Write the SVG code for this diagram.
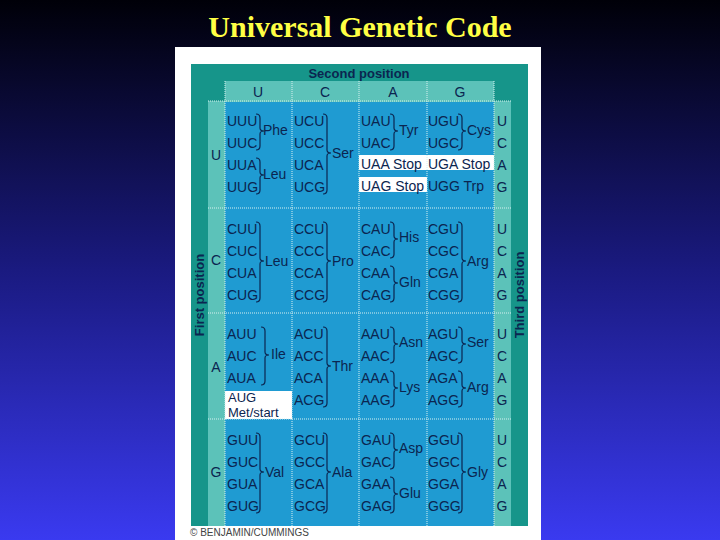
<svg xmlns="http://www.w3.org/2000/svg" width="720" height="540" viewBox="0 0 720 540">
<defs>
<linearGradient id="bg" x1="0" y1="0" x2="0" y2="1"><stop offset="0" stop-color="#000008"/><stop offset="0.5" stop-color="#1a1a80"/><stop offset="1" stop-color="#3a3af0"/></linearGradient>
<style>
.c{font-family:"Liberation Sans",Arial,sans-serif;font-size:14px;fill:#0b2550}
.m{font-family:"Liberation Sans",Arial,sans-serif;font-size:13px;fill:#0b2550}
.h{font-family:"Liberation Sans",Arial,sans-serif;font-size:14px;fill:#0b2550;text-anchor:middle}
.b{font-family:"Liberation Sans",Arial,sans-serif;font-size:13px;font-weight:bold;fill:#0b2550;text-anchor:middle}
.br{fill:none;stroke:#0b2550;stroke-width:1.2}
.cell{fill:#1f9bd2}
.lt{fill:#5cc2b9}
.g{stroke:#d8f0f0;stroke-width:1;stroke-dasharray:1 1}
.w{fill:#ffffff}
</style>
</defs>
<rect width="720" height="540" fill="url(#bg)"/>
<text x="360" y="37" text-anchor="middle" font-family="Liberation Serif,serif" font-weight="bold" font-size="30" fill="#ffff44">Universal Genetic Code</text>
<rect x="175" y="47" width="366" height="493" fill="#ffffff"/>
<g id="frame">
<rect x="191" y="64" width="337" height="462" fill="#16958a"/>
<rect x="208" y="81" width="303" height="445" class="lt"/>
<rect x="225" y="102" width="269" height="424" class="cell"/>
<rect x="208" y="81" width="17" height="20" fill="#16958a"/>
<rect x="494" y="81" width="17" height="20" fill="#16958a"/>
<text x="359" y="78" class="b">Second position</text>
<text x="258" y="97" class="h">U</text><text x="325" y="97" class="h">C</text><text x="393" y="97" class="h">A</text><text x="460" y="97" class="h">G</text>
<text class="b" transform="translate(204,295) rotate(-90)">First position</text>
<text class="b" transform="translate(524,295) rotate(-90)">Third position</text>
</g>
<g id="highlights">
<rect x="359" y="155" width="135" height="15" class="w"/>
<rect x="359" y="177" width="68" height="15" class="w"/>
<rect x="225" y="391" width="67" height="28" class="w"/>
</g>
<g id="grid">
<line x1="208" y1="101" x2="511" y2="101" class="g"/>
<line x1="208" y1="208" x2="511" y2="208" class="g"/>
<line x1="208" y1="313" x2="511" y2="313" class="g"/>
<line x1="208" y1="419" x2="511" y2="419" class="g"/>
<line x1="225" y1="81" x2="225" y2="526" class="g"/>
<line x1="292" y1="81" x2="292" y2="526" class="g"/>
<line x1="359" y1="81" x2="359" y2="526" class="g"/>
<line x1="427" y1="81" x2="427" y2="526" class="g"/>
<line x1="494" y1="81" x2="494" y2="526" class="g"/>
</g>
<g id="row-labels">
<text x="216" y="160" class="h">U</text><text x="216" y="265" class="h">C</text><text x="216" y="372" class="h">A</text><text x="216" y="477" class="h">G</text>
</g>
<g id="third-labels">
<text x="502" y="126" class="h">U</text><text x="502" y="148" class="h">C</text><text x="502" y="170" class="h">A</text><text x="502" y="192" class="h">G</text>
<text x="502" y="234" class="h">U</text><text x="502" y="256" class="h">C</text><text x="502" y="278" class="h">A</text><text x="502" y="300" class="h">G</text>
<text x="502" y="339" class="h">U</text><text x="502" y="361" class="h">C</text><text x="502" y="383" class="h">A</text><text x="502" y="405" class="h">G</text>
<text x="502" y="445" class="h">U</text><text x="502" y="467" class="h">C</text><text x="502" y="489" class="h">A</text><text x="502" y="511" class="h">G</text>
</g>
<g id="UU" transform="translate(225,102)">
<text x="2" y="24" class="c">UUU</text><text x="2" y="46" class="c">UUC</text><text x="2" y="68" class="c">UUA</text><text x="2" y="90" class="c">UUG</text>
<path class="br" d="M31,12 q4,0 4,4 V26 q0,3 4,3 q-4,0 -4,3 V44 q0,4 -4,4"/><text x="38" y="33" class="c">Phe</text>
<path class="br" d="M31,56 q4,0 4,4 V70 q0,3 4,3 q-4,0 -4,3 V88 q0,4 -4,4"/><text x="38" y="77" class="c">Leu</text>
</g>
<g id="UC" transform="translate(292,102)">
<text x="2" y="24" class="c">UCU</text><text x="2" y="46" class="c">UCC</text><text x="2" y="68" class="c">UCA</text><text x="2" y="90" class="c">UCG</text>
<path class="br" d="M31,12 q4,0 4,4 V48 q0,3 4,3 q-4,0 -4,3 V88 q0,4 -4,4"/><text x="40" y="56" class="c">Ser</text>
</g>
<g id="UA" transform="translate(359,102)">
<text x="2" y="24" class="c">UAU</text><text x="2" y="46" class="c">UAC</text><text x="2" y="67" class="c">UAA Stop</text><text x="2" y="89" class="c">UAG Stop</text>
<path class="br" d="M31,12 q4,0 4,4 V26 q0,3 4,3 q-4,0 -4,3 V44 q0,4 -4,4"/><text x="40" y="33" class="c">Tyr</text>
</g>
<g id="UG" transform="translate(427,102)">
<text x="1" y="24" class="c">UGU</text><text x="1" y="46" class="c">UGC</text><text x="1" y="67" class="c">UGA Stop</text><text x="1" y="89" class="c">UGG  Trp</text>
<path class="br" d="M31,12 q4,0 4,4 V26 q0,3 4,3 q-4,0 -4,3 V44 q0,4 -4,4"/><text x="40" y="33" class="c">Cys</text>
</g>
<g id="CU" transform="translate(225,208)">
<text x="2" y="26" class="c">CUU</text><text x="2" y="48" class="c">CUC</text><text x="2" y="70" class="c">CUA</text><text x="2" y="92" class="c">CUG</text>
<path class="br" d="M31,14 q4,0 4,4 V50 q0,3 4,3 q-4,0 -4,3 V90 q0,4 -4,4"/><text x="40" y="58" class="c">Leu</text>
</g>
<g id="CC" transform="translate(292,208)">
<text x="2" y="26" class="c">CCU</text><text x="2" y="48" class="c">CCC</text><text x="2" y="70" class="c">CCA</text><text x="2" y="92" class="c">CCG</text>
<path class="br" d="M31,14 q4,0 4,4 V50 q0,3 4,3 q-4,0 -4,3 V90 q0,4 -4,4"/><text x="40" y="58" class="c">Pro</text>
</g>
<g id="CA" transform="translate(359,208)">
<text x="2" y="26" class="c">CAU</text><text x="2" y="48" class="c">CAC</text><text x="2" y="70" class="c">CAA</text><text x="2" y="92" class="c">CAG</text>
<path class="br" d="M31,14 q4,0 4,4 V28 q0,3 4,3 q-4,0 -4,3 V46 q0,4 -4,4"/><text x="40" y="34" class="c">His</text>
<path class="br" d="M31,58 q4,0 4,4 V72 q0,3 4,3 q-4,0 -4,3 V90 q0,4 -4,4"/><text x="40" y="79" class="c">Gln</text>
</g>
<g id="CG" transform="translate(427,208)">
<text x="1" y="26" class="c">CGU</text><text x="1" y="48" class="c">CGC</text><text x="1" y="70" class="c">CGA</text><text x="1" y="92" class="c">CGG</text>
<path class="br" d="M31,14 q4,0 4,4 V50 q0,3 4,3 q-4,0 -4,3 V90 q0,4 -4,4"/><text x="40" y="58" class="c">Arg</text>
</g>
<g id="AU" transform="translate(225,313)">
<text x="2" y="26" class="c">AUU</text><text x="2" y="48" class="c">AUC</text><text x="2" y="70" class="c">AUA</text>
<path class="br" d="M36,14 q4,0 4,4 V39 q0,3 4,3 q-4,0 -4,3 V68 q0,4 -4,4"/><text x="46" y="46" class="c">Ile</text>
<text x="3" y="89" class="m">AUG</text><text x="3" y="104" class="m">Met/start</text>
</g>
<g id="AC" transform="translate(292,313)">
<text x="2" y="26" class="c">ACU</text><text x="2" y="48" class="c">ACC</text><text x="2" y="70" class="c">ACA</text><text x="2" y="92" class="c">ACG</text>
<path class="br" d="M31,14 q4,0 4,4 V50 q0,3 4,3 q-4,0 -4,3 V90 q0,4 -4,4"/><text x="40" y="58" class="c">Thr</text>
</g>
<g id="AA" transform="translate(359,313)">
<text x="2" y="26" class="c">AAU</text><text x="2" y="48" class="c">AAC</text><text x="2" y="70" class="c">AAA</text><text x="2" y="92" class="c">AAG</text>
<path class="br" d="M31,14 q4,0 4,4 V28 q0,3 4,3 q-4,0 -4,3 V46 q0,4 -4,4"/><text x="40" y="34" class="c">Asn</text>
<path class="br" d="M31,58 q4,0 4,4 V72 q0,3 4,3 q-4,0 -4,3 V90 q0,4 -4,4"/><text x="40" y="79" class="c">Lys</text>
</g>
<g id="AG" transform="translate(427,313)">
<text x="1" y="26" class="c">AGU</text><text x="1" y="48" class="c">AGC</text><text x="1" y="70" class="c">AGA</text><text x="1" y="92" class="c">AGG</text>
<path class="br" d="M31,14 q4,0 4,4 V28 q0,3 4,3 q-4,0 -4,3 V46 q0,4 -4,4"/><text x="40" y="34" class="c">Ser</text>
<path class="br" d="M31,58 q4,0 4,4 V72 q0,3 4,3 q-4,0 -4,3 V90 q0,4 -4,4"/><text x="40" y="79" class="c">Arg</text>
</g>
<g id="GU" transform="translate(225,419)">
<text x="2" y="26" class="c">GUU</text><text x="2" y="48" class="c">GUC</text><text x="2" y="70" class="c">GUA</text><text x="2" y="92" class="c">GUG</text>
<path class="br" d="M31,14 q4,0 4,4 V50 q0,3 4,3 q-4,0 -4,3 V90 q0,4 -4,4"/><text x="40" y="58" class="c">Val</text>
</g>
<g id="GC" transform="translate(292,419)">
<text x="2" y="26" class="c">GCU</text><text x="2" y="48" class="c">GCC</text><text x="2" y="70" class="c">GCA</text><text x="2" y="92" class="c">GCG</text>
<path class="br" d="M31,14 q4,0 4,4 V50 q0,3 4,3 q-4,0 -4,3 V90 q0,4 -4,4"/><text x="40" y="58" class="c">Ala</text>
</g>
<g id="GA" transform="translate(359,419)">
<text x="2" y="26" class="c">GAU</text><text x="2" y="48" class="c">GAC</text><text x="2" y="70" class="c">GAA</text><text x="2" y="92" class="c">GAG</text>
<path class="br" d="M31,14 q4,0 4,4 V28 q0,3 4,3 q-4,0 -4,3 V46 q0,4 -4,4"/><text x="40" y="34" class="c">Asp</text>
<path class="br" d="M31,58 q4,0 4,4 V72 q0,3 4,3 q-4,0 -4,3 V90 q0,4 -4,4"/><text x="40" y="79" class="c">Glu</text>
</g>
<g id="GG" transform="translate(427,419)">
<text x="1" y="26" class="c">GGU</text><text x="1" y="48" class="c">GGC</text><text x="1" y="70" class="c">GGA</text><text x="1" y="92" class="c">GGG</text>
<path class="br" d="M31,14 q4,0 4,4 V50 q0,3 4,3 q-4,0 -4,3 V90 q0,4 -4,4"/><text x="40" y="58" class="c">Gly</text>
</g>
<text x="190" y="536" font-family="Liberation Sans,Arial,sans-serif" font-size="10" fill="#444">© BENJAMIN/CUMMINGS</text>
</svg>
